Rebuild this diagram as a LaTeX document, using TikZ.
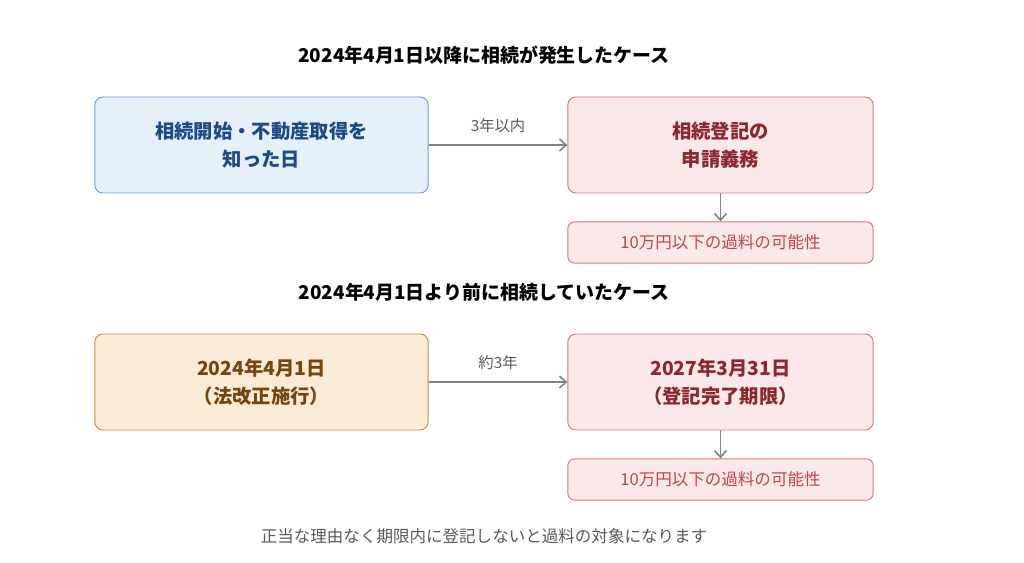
\documentclass[tikz,border=0pt]{standalone}
\usepackage{fontspec}
\setmainfont{Noto Sans CJK JP}
\usetikzlibrary{positioning}
\usetikzlibrary{calc}
\usetikzlibrary{arrows.meta}

\definecolor{bluefill}{RGB}{230,240,250}
\definecolor{blueline}{RGB}{110,155,215}
\definecolor{bluetext}{RGB}{30,75,135}
\definecolor{redfill}{RGB}{251,233,234}
\definecolor{redline}{RGB}{208,120,128}
\definecolor{redtext}{RGB}{140,40,45}
\definecolor{redsmall}{RGB}{190,70,75}
\definecolor{orafill}{RGB}{250,235,215}
\definecolor{oraline}{RGB}{190,140,80}
\definecolor{oratext}{RGB}{115,70,15}
\definecolor{arrowgray}{RGB}{130,130,130}

\begin{document}
\begin{tikzpicture}[
        x=0.75pt, y=0.75pt,
        box/.style={rectangle, rounded corners=6pt, draw, line width=0.7pt, minimum width=250pt, minimum height=72pt, align=center, font=\fontsize{14.5}{21}\selectfont\bfseries},
        bigbox/.style={box, minimum width=229pt},
        smallbox/.style={rectangle, rounded corners=5pt, draw=redline, fill=redfill, line width=0.7pt, minimum width=229pt, minimum height=31pt, text=redsmall, font=\fontsize{12.4}{14}\selectfont},
        title/.style={font=\fontsize{14.2}{16}\selectfont\bfseries},
        arr/.style={draw=arrowgray, line width=1.2pt, -{Straight Barb[length=5pt,width=9pt]}},
        lbl/.style={font=\fontsize{11.5}{13}\selectfont, text=black!65},
    ]
        \useasboundingbox (0,0) rectangle (1024,-563);

        % First case
        \node[title] (t1) at (484,-55) {2024年4月1日以降に相続が発生したケース};
        \node[box, fill=bluefill, draw=blueline, text=bluetext] (start1) at (261.5,-145) {相続開始・不動産取得を\\知った日};
        \node[bigbox, fill=redfill, draw=redline, text=redtext] (duty1) at (720.5,-145) {相続登記の\\申請義務};
        \node[smallbox] (fine1) at (720.5,-242.5) {10万円以下の過料の可能性};

        \draw[arr] (start1) -- node[above=5pt, lbl] {3年以内} (duty1);
        \draw[arr] (duty1) -- (fine1);

        % Second case
        \node[title] (t2) at (484,-292) {2024年4月1日より前に相続していたケース};
        \node[box, fill=orafill, draw=oraline, text=oratext] (start2) at (261.5,-382) {2024年4月1日\\（法改正施行）};
        \node[bigbox, fill=redfill, draw=redline, text=redtext] (duty2) at (720.5,-382) {2027年3月31日\\（登記完了期限）};
        \node[smallbox] (fine2) at (720.5,-479.5) {10万円以下の過料の可能性};

        \draw[arr] (start2) -- node[above=5pt, lbl] {約3年} (duty2);
        \draw[arr] (duty2) -- (fine2);

        % Note
        \node[font=\fontsize{12.4}{14}\selectfont, text=black!65] (note) at (484,-536) {正当な理由なく期限内に登記しないと過料の対象になります};
    \end{tikzpicture}
\end{document}
